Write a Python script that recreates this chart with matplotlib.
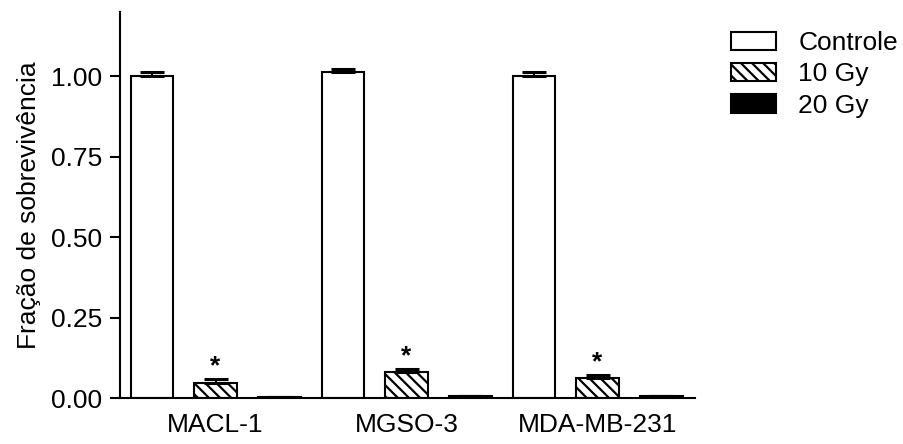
import matplotlib
matplotlib.use("Agg")
import matplotlib.pyplot as plt
import numpy as np
from matplotlib.patches import Patch

# Survival fraction per cell line and treatment
cell_lines = ["MACL-1", "MGSO-3", "MDA-MB-231"]
treatments = ["Controle", "10 Gy", "20 Gy"]
controle = [1.000, 1.013, 1.000]
controle_err = [0.012, 0.010, 0.012]
gy10 = [0.048, 0.082, 0.063]
gy10_err = [0.010, 0.007, 0.007]
gy20 = [0.002, 0.006, 0.006]
gy20_err = [0.0, 0.0, 0.0]
significant_10gy = [True, True, True]

plt.rcParams["font.family"] = ["Liberation Sans", "DejaVu Sans"]
plt.rcParams["hatch.linewidth"] = 1.6

fig = plt.figure(figsize=(9.04, 4.44), dpi=100)
ax = fig.add_axes([120 / 904, 46 / 444, 575 / 904, 386 / 444])

lw = 1.5
fs = 19
width = 0.67
group_pos = np.arange(len(cell_lines)) * 3
series = [
    (controle, controle_err, dict(facecolor="white", hatch=None)),
    (gy10, gy10_err, dict(facecolor="white", hatch="\\\\\\")),
    (gy20, gy20_err, dict(facecolor="black", hatch=None)),
]
for k, (vals, errs, style) in enumerate(series):
    x = group_pos + k
    ax.bar(x, vals, width=width, edgecolor="black", linewidth=lw,
           zorder=2, **style)
    ax.errorbar(x, vals, yerr=[np.zeros(len(vals)), errs], fmt="none",
                ecolor="black", elinewidth=lw, capsize=8.5, capthick=2.2,
                zorder=3)

# significance marks above the 10 Gy bars
for x, v, e, s in zip(group_pos + 1, gy10, gy10_err, significant_10gy):
    if s:
        ax.text(x, v + e + 0.003, "*", ha="center", va="bottom",
                fontsize=fs, fontweight="bold")

ax.set_xlim(-0.5, 8.53)
ax.set_ylim(0, 1.2)
ax.set_yticks([0, 0.25, 0.5, 0.75, 1.0])
ax.set_yticklabels(["0.00", "0.25", "0.50", "0.75", "1.00"])
ax.set_xticks(group_pos + 1)
ax.set_xticklabels(cell_lines)
ax.tick_params(axis="y", length=7.5, width=lw, pad=5.5, labelsize=fs)
ax.tick_params(axis="x", length=0, pad=11, labelsize=fs)
for side in ["top", "right"]:
    ax.spines[side].set_visible(False)
for side in ["left", "bottom"]:
    ax.spines[side].set_linewidth(lw)
ax.set_ylabel("Fração de sobrevivência", fontsize=fs, labelpad=7)

handles = [
    Patch(facecolor="white", edgecolor="black", linewidth=lw),
    Patch(facecolor="white", edgecolor="black", linewidth=lw, hatch="\\\\\\"),
    Patch(facecolor="black", edgecolor="black", linewidth=lw),
]
fig.legend(handles, treatments, loc="upper left",
           bbox_to_anchor=(731 / 904, 1 - 31 / 444), frameon=False,
           fontsize=fs, handlelength=1.7, handleheight=0.7,
           labelspacing=0.28, handletextpad=0.85, borderpad=0,
           borderaxespad=0)

fig.savefig("out.png", dpi=100)
